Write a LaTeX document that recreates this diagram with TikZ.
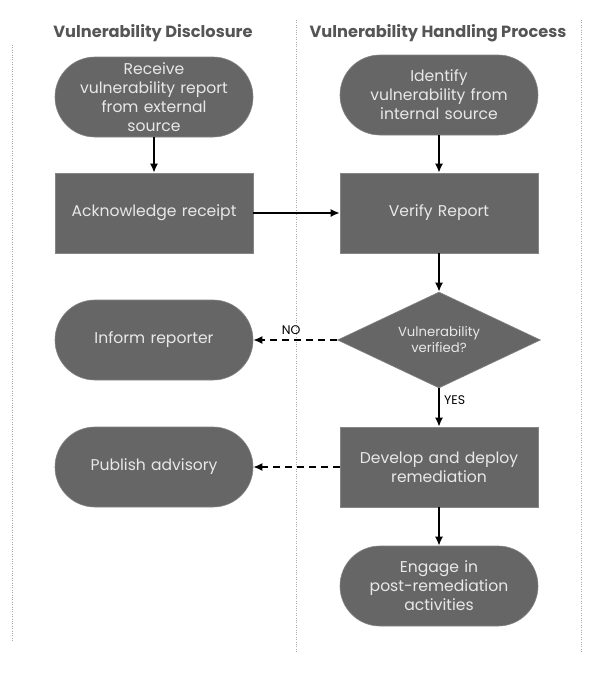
\documentclass[tikz,border=0pt]{standalone}
\usepackage{fontspec}
\setmainfont{Poppins}
\usetikzlibrary{shapes.geometric,arrows.meta}
\definecolor{boxfill}{HTML}{666666}
\definecolor{boxtext}{HTML}{E8E8E8}
\definecolor{headtext}{HTML}{555555}
\definecolor{divider}{HTML}{AAAAAA}
\tikzset{
  base/.style={fill=boxfill, draw=boxfill!80!white, line width=0.6pt, text=boxtext, font=\fontsize{15.6}{19}\selectfont, align=center, minimum width=198pt, minimum height=80pt, inner sep=1pt},
  terminal/.style={base, rounded corners=40pt, text width=180pt},
  process/.style={base, text width=190pt},
  decision/.style={diamond, fill=boxfill, draw=boxfill!80!white, line width=0.6pt, text=boxtext, font=\fontsize{13.2}{16}\selectfont, align=center, minimum width=203pt, minimum height=96pt, inner sep=0pt, aspect=2.1},
  head/.style={text=headtext, font=\bfseries\fontsize{16.2}{19}\selectfont},
  flow/.style={-{Latex[length=9pt,width=8pt]}, line width=1.6pt, black},
  dflow/.style={flow, dash pattern=on 7pt off 5pt},
  lbl/.style={font=\fontsize{12.5}{15}\selectfont, text=black},
  lane/.style={divider, line width=0.8pt, dash pattern=on 0.8pt off 1.6pt}
}
\begin{document}
\begin{tikzpicture}[x=1pt,y=-1pt]
\useasboundingbox[fill=white] (0,0) rectangle (590,680);
\coordinate (l1a) at (12,45); \coordinate (l1b) at (12,642);
\coordinate (l2a) at (296,20); \coordinate (l2b) at (296,652);
\coordinate (l3a) at (581,20); \coordinate (l3b) at (581,652);
\draw[lane] (l1a) -- (l1b);
\draw[lane] (l2a) -- (l2b);
\draw[lane] (l3a) -- (l3b);
\node[head] (h1) at (153,33) {Vulnerability Disclosure};
\node[head] (h2) at (438,33) {Vulnerability Handling Process};
\node[terminal] (receive) at (154,97) {Receive\\vulnerability report\\from external\\source};
\node[process] (ack) at (154,213) {Acknowledge receipt};
\node[terminal] (identify) at (439,95) {Identify\\vulnerability from\\internal source};
\node[process] (verify) at (439,213) {Verify Report};
\node[decision] (dec) at (439,340) {Vulnerability\\verified?};
\node[terminal] (inform) at (154,340) {Inform reporter};
\node[process] (develop) at (439,467) {Develop and deploy\\remediation};
\node[terminal] (publish) at (154,467) {Publish advisory};
\node[terminal] (engage) at (439,586) {Engage in\\post-remediation\\activities};
\draw[flow] (receive) -- (ack);
\draw[flow] (ack) -- (verify);
\draw[flow] (identify) -- (verify);
\draw[flow] (verify) -- (dec);
\draw[dflow] (dec) -- node[lbl, above=1pt, pos=0.55] {NO} (inform);
\draw[flow] (dec) -- node[lbl, right=1pt, pos=0.3] {YES} (develop);
\draw[dflow] (develop) -- (publish);
\draw[flow] (develop) -- (engage);
\end{tikzpicture}
\end{document}
